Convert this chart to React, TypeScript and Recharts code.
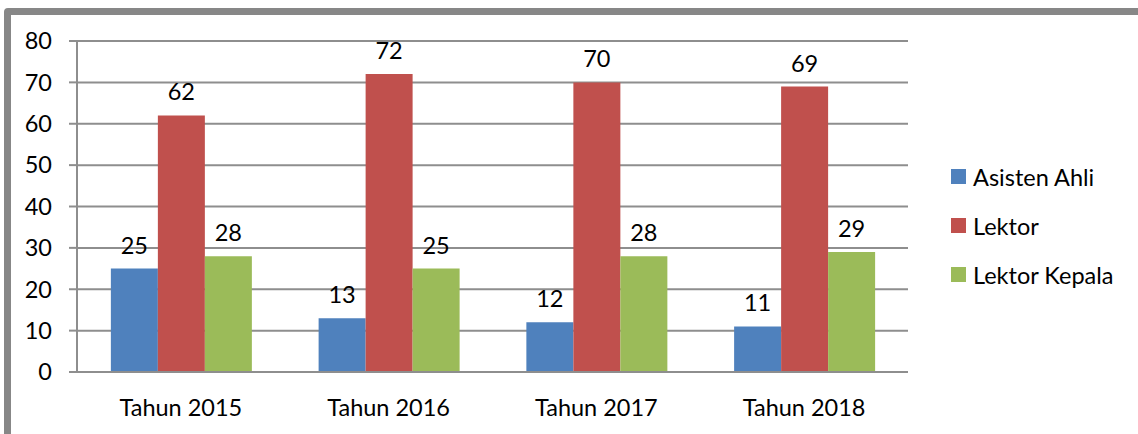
import React from 'react';
import { BarChart, Bar, XAxis, YAxis, CartesianGrid, Legend, LabelList } from 'recharts';

// Data
const categories = ['Tahun 2015', 'Tahun 2016', 'Tahun 2017', 'Tahun 2018'];
const asistenAhli = [25, 13, 12, 11];
const lektor = [62, 72, 70, 69];
const lektorKepala = [28, 25, 28, 29];
const yTicks = [0, 10, 20, 30, 40, 50, 60, 70, 80];
const edgeTicks = [0, 1, 2, 3, 4];

const seriesList = [
  { key: 'asisten', name: 'Asisten Ahli', color: '#4F81BD' },
  { key: 'lektor', name: 'Lektor', color: '#C0504D' },
  { key: 'kepala', name: 'Lektor Kepala', color: '#9BBB59' },
];

const data = categories.map((c, i) => ({
  name: c,
  asisten: asistenAhli[i],
  lektor: lektor[i],
  kepala: lektorKepala[i],
}));

const FONT = 'Lato, "Noto Sans", sans-serif';
const FS = 23.5;
const GRID = '#8e8e8e';

function LegendBox() {
  return (
    <div style={{ fontFamily: FONT, fontSize: FS, color: '#000' }}>
      {seriesList.map((s) => (
        <div key={s.key} style={{ height: 49, display: 'flex', alignItems: 'center' }}>
          <span style={{ width: 15, height: 15, background: s.color, display: 'inline-block', marginRight: 7 }} />
          <span>{s.name}</span>
        </div>
      ))}
    </div>
  );
}

export default function App() {
  return (
    <div
      style={{
        position: 'absolute',
        left: 0,
        top: 0,
        width: 1138,
        height: 434,
        overflow: 'hidden',
        background: '#fff',
      }}
    >
      {/* gray frame of the original picture */}
      <div
        style={{
          position: 'absolute',
          left: 4,
          top: 8,
          width: 1300,
          height: 600,
          border: '7px solid #878787',
          borderRadius: 4,
          boxSizing: 'border-box',
        }}
      />
      <div style={{ position: 'absolute', left: 0, top: 0 }}>
        <BarChart
          width={1138}
          height={434}
          data={data}
          margin={{ top: 41, right: 230, bottom: 0, left: 0 }}
          barGap={0}
          barCategoryGap="16.3%"
        >
          <CartesianGrid vertical={false} stroke={GRID} strokeWidth={2} />
          <XAxis
            xAxisId="edge"
            type="number"
            domain={[0, 4]}
            ticks={edgeTicks}
            tick={false}
            axisLine={false}
            tickSize={8}
            tickLine={{ stroke: GRID, strokeWidth: 2 }}
            height={0}
          />
          <XAxis
            dataKey="name"
            height={62}
            tickLine={false}
            tickSize={0}
            tickMargin={27}
            axisLine={{ stroke: GRID, strokeWidth: 2 }}
            tick={{ fill: '#000', fontSize: FS, fontFamily: FONT }}
          />
          <YAxis
            width={77}
            domain={[0, 80]}
            ticks={yTicks}
            interval={0}
            tickSize={8}
            tickMargin={17}
            axisLine={{ stroke: GRID, strokeWidth: 2 }}
            tickLine={{ stroke: GRID, strokeWidth: 2 }}
            tick={{ fill: '#000', fontSize: FS, fontFamily: FONT }}
          />
          <Legend
            layout="horizontal"
            align="center"
            verticalAlign="middle"
            content={() => <LegendBox />}
            wrapperStyle={{ left: 951, top: 152, width: 187 }}
          />
          {seriesList.map((s) => (
            <Bar key={s.key} dataKey={s.key} name={s.name} fill={s.color} isAnimationActive={false}>
              <LabelList
                dataKey={s.key}
                position="top"
                offset={15}
                fill="#000"
                fontSize={FS}
                fontFamily={FONT}
              />
            </Bar>
          ))}
        </BarChart>
      </div>
    </div>
  );
}
